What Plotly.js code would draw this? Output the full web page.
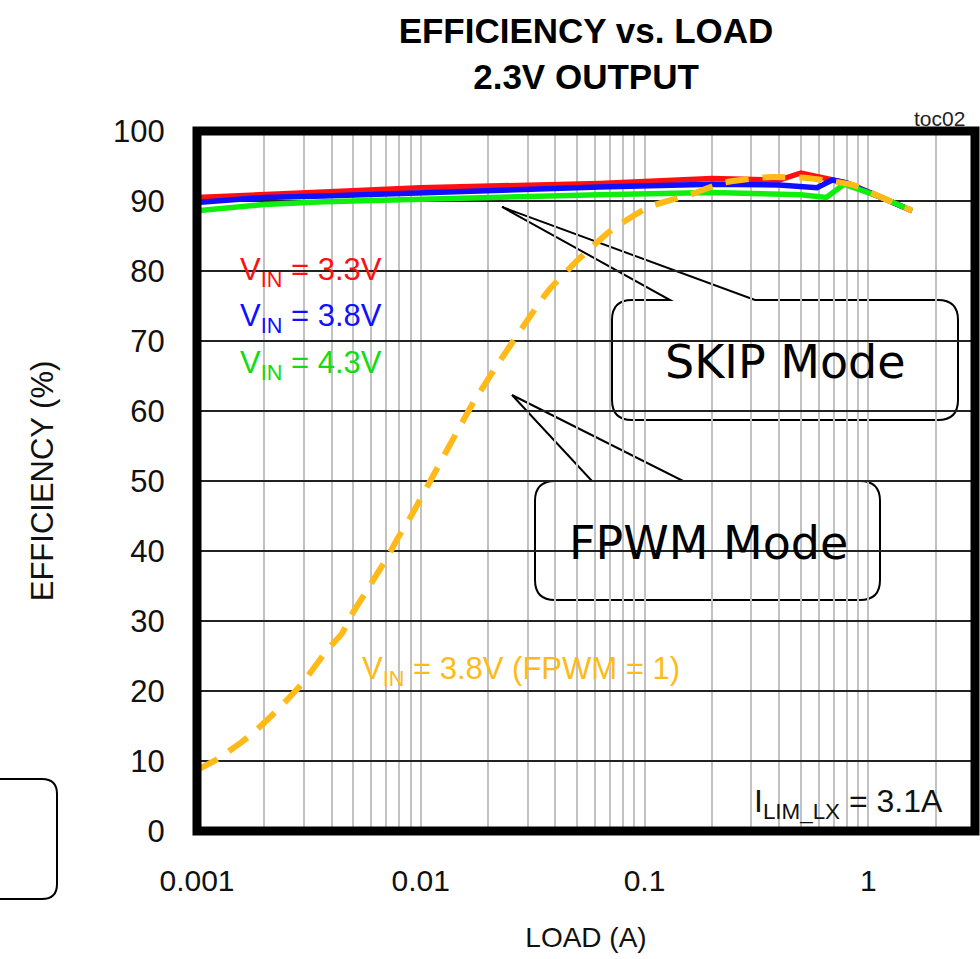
<!DOCTYPE html>
<html>
<head>
<meta charset="utf-8">
<script src="https://cdn.plot.ly/plotly-3.0.1.min.js"></script>
<style>html,body{margin:0;padding:0;background:#fff;}#chart{width:980px;height:959px;}</style>
</head>
<body>
<div id="chart"></div>
<script>
// ---- data ----
var loadRed   = [0.001, 0.002, 0.0037, 0.01, 0.02, 0.063, 0.2, 0.4, 0.5, 0.67, 0.8, 1.13, 1.57];
var effRed    = [90.5, 91.0, 91.3, 91.9, 92.1, 92.5, 93.2, 93.0, 94.0, 93.2, 92.6, 90.6, 88.6];
var loadBlue  = [0.001, 0.002, 0.0037, 0.01, 0.02, 0.063, 0.2, 0.4, 0.59, 0.69, 0.8, 1.13, 1.57];
var effBlue   = [89.8, 90.5, 90.7, 91.2, 91.6, 92.0, 92.4, 92.3, 91.9, 93.0, 92.6, 90.6, 88.6];
var loadGreen = [0.001, 0.002, 0.0037, 0.01, 0.02, 0.063, 0.2, 0.5, 0.65, 0.78, 1.13, 1.57];
var effGreen  = [88.6, 89.5, 89.9, 90.3, 90.6, 90.9, 91.2, 90.9, 90.5, 92.4, 90.6, 88.6];
var loadFpwm  = [0.001, 0.00124, 0.00152, 0.00178, 0.00216, 0.00247, 0.00294, 0.00385, 0.00444, 0.00498,
                 0.00563, 0.00637, 0.00706, 0.00791, 0.00895, 0.0112, 0.01378, 0.0171, 0.0221, 0.0283,
                 0.037, 0.0504, 0.0714, 0.1057, 0.163, 0.224, 0.352, 0.532, 0.627, 0.853, 1.13, 1.57];
var effFpwm   = [8.7, 10.3, 12.3, 14, 16.5, 18.4, 21, 26, 28.2, 31.2,
                 33.9, 36.7, 39, 41.9, 44.7, 50.4, 55.7, 61.1, 66.7, 71.8,
                 77.1, 81.6, 85.9, 89.2, 91, 92.6, 93.4, 93.3, 93, 92.3, 90.6, 88.6];

var xTickVals = [0.001, 0.01, 0.1, 1];
var xTickText = ['0.001', '0.01', '0.1', '1'];
var yTickVals = [0, 10, 20, 30, 40, 50, 60, 70, 80, 90, 100];

var seriesNames = ['V<sub>IN</sub> = 3.3V', 'V<sub>IN</sub> = 3.8V', 'V<sub>IN</sub> = 4.3V', 'V<sub>IN</sub> = 3.8V (FPWM = 1)'];

// ---- layout helpers (pixel -> paper) ----
var W = 980, H = 959;
var M = {l: 197, r: 5, t: 131, b: 128};
var PW = W - M.l - M.r, PH = H - M.t - M.b;
function px(x) { return (x - M.l) / PW; }
function py(y) { return (H - M.b - y) / PH; }
function P(x, y) { return px(x).toFixed(5) + ',' + py(y).toFixed(5); }

function callout(L, R, T, B, r, b1, b2, ax, ay) {
  return 'M' + P(L + r, T) + ' L' + P(b1, T) + ' L' + P(ax, ay) + ' L' + P(b2, T) +
    ' L' + P(R - r, T) + ' Q' + P(R, T) + ' ' + P(R, T + r) +
    ' L' + P(R, B - r) + ' Q' + P(R, B) + ' ' + P(R - r, B) +
    ' L' + P(L + r, B) + ' Q' + P(L, B) + ' ' + P(L, B - r) +
    ' L' + P(L, T + r) + ' Q' + P(L, T) + ' ' + P(L + r, T) + ' Z';
}

var minorVals = [];
[0.001, 0.01, 0.1, 1].forEach(function (d) {
  for (var k = 2; k <= 9; k++) { if (d * k <= 3) minorVals.push(d * k); }
});

var FONT = 'Liberation Sans, Arial, sans-serif';
var BOXFONT = 'DejaVu Sans, Verdana, sans-serif';

var traces = [
  {x: loadRed, y: effRed, mode: 'lines', name: seriesNames[0], line: {color: '#FF1010', width: 5.5}},
  {x: loadBlue, y: effBlue, mode: 'lines', name: seriesNames[1], line: {color: '#1010FF', width: 5.5}},
  {x: loadGreen, y: effGreen, mode: 'lines', name: seriesNames[2], line: {color: '#10EE10', width: 5.5}},
  {x: loadFpwm, y: effFpwm, mode: 'lines', name: seriesNames[3],
   line: {color: '#FFBA1A', width: 6, dash: '23px,14px', shape: 'spline', smoothing: 0.5}}
];

var layout = {
  width: W, height: H,
  margin: M,
  paper_bgcolor: '#fff', plot_bgcolor: '#fff',
  showlegend: false,
  font: {family: FONT, color: '#111'},
  title: {
    text: '<b>EFFICIENCY vs. LOAD</b><br><b>2.3V OUTPUT</b>',
    font: {family: FONT, size: 35, color: '#000'},
    x: 0.5, xref: 'paper', xanchor: 'center',
    y: 1 - 43 / H, yanchor: 'middle'
  },
  xaxis: {
    type: 'log', range: [-3, Math.log10(3)],
    tickvals: xTickVals, ticktext: xTickText,
    tickfont: {family: FONT, size: 30, color: '#111'},
    ticks: 'outside', ticklen: 23, tickcolor: 'rgba(0,0,0,0)',
    showgrid: true, gridcolor: '#C2C2C2', gridwidth: 2,
    minor: {tickvals: minorVals, showgrid: true, gridcolor: '#C2C2C2', gridwidth: 2, ticks: ''},
    zeroline: false, showline: false,
    title: {text: 'LOAD (A)', font: {family: FONT, size: 28, color: '#111'}, standoff: 31}
  },
  yaxis: {
    range: [0, 100], tickvals: yTickVals,
    tickfont: {family: FONT, size: 31, color: '#111'},
    ticks: 'outside', ticklen: 25, tickcolor: 'rgba(0,0,0,0)',
    showgrid: true, gridcolor: '#222', gridwidth: 2,
    zeroline: false, showline: false,
    title: {text: 'EFFICIENCY (%)', font: {family: FONT, size: 31, color: '#111'}, standoff: 50}
  },
  shapes: [
    // white label backgrounds (above grid, below traces)
    {type: 'rect', xref: 'paper', yref: 'paper', layer: 'between', x0: px(237), x1: px(390), y0: py(250), y1: py(382), fillcolor: '#fff', line: {width: 0}},
    {type: 'rect', xref: 'paper', yref: 'paper', layer: 'between', x0: px(355), x1: px(693), y0: py(652), y1: py(689), fillcolor: '#fff', line: {width: 0}},
    {type: 'rect', xref: 'paper', yref: 'paper', layer: 'between', x0: px(750), x1: px(958), y0: py(770), y1: py(826), fillcolor: '#fff', line: {width: 0}},
    // callouts
    {type: 'path', xref: 'paper', yref: 'paper', layer: 'between', path: callout(612, 958, 300, 420, 20, 670, 755, 502, 207), fillcolor: '#fff', line: {color: '#000', width: 2}},
    {type: 'path', xref: 'paper', yref: 'paper', layer: 'between', path: callout(535, 880, 481, 600, 20, 592, 683, 512, 395), fillcolor: '#fff', line: {color: '#000', width: 2}},
    // partial box bottom-left
    {type: 'path', xref: 'paper', yref: 'paper', layer: 'above',
     path: 'M' + P(-20, 779) + ' L' + P(42, 779) + ' Q' + P(57, 779) + ' ' + P(57, 794) + ' L' + P(57, 884) + ' Q' + P(57, 899) + ' ' + P(42, 899) + ' L' + P(-20, 899),
     line: {color: '#000', width: 2}},
    // thick plot frame
    {type: 'rect', xref: 'paper', yref: 'paper', layer: 'above', x0: 0, x1: 1, y0: 0, y1: 1, line: {color: '#000', width: 9}}
  ],
  annotations: [
    {xref: 'paper', yref: 'paper', x: px(238), y: py(272), xanchor: 'left', yanchor: 'middle', showarrow: false, text: seriesNames[0], font: {family: FONT, size: 31, color: '#FF1010'}},
    {xref: 'paper', yref: 'paper', x: px(238), y: py(318), xanchor: 'left', yanchor: 'middle', showarrow: false, text: seriesNames[1], font: {family: FONT, size: 31, color: '#1010FF'}},
    {xref: 'paper', yref: 'paper', x: px(238), y: py(365), xanchor: 'left', yanchor: 'middle', showarrow: false, text: seriesNames[2], font: {family: FONT, size: 31, color: '#10DD10'}},
    {xref: 'paper', yref: 'paper', x: px(360), y: py(671), xanchor: 'left', yanchor: 'middle', showarrow: false, text: seriesNames[3], font: {family: FONT, size: 31, color: '#FFBA1A'}},
    {xref: 'paper', yref: 'paper', x: px(752), y: py(803), xanchor: 'left', yanchor: 'middle', showarrow: false, text: 'I<sub>LIM_LX</sub> = 3.1A', font: {family: FONT, size: 32, color: '#111'}},
    {xref: 'paper', yref: 'paper', x: px(967), y: py(118), xanchor: 'right', yanchor: 'middle', showarrow: false, text: 'toc02', font: {family: FONT, size: 21, color: '#222'}},
    {xref: 'paper', yref: 'paper', x: px(785), y: py(362), xanchor: 'center', yanchor: 'middle', showarrow: false, text: 'SKIP Mode', font: {family: BOXFONT, size: 46, color: '#000'}},
    {xref: 'paper', yref: 'paper', x: px(708), y: py(543), xanchor: 'center', yanchor: 'middle', showarrow: false, text: 'FPWM Mode', font: {family: BOXFONT, size: 46, color: '#000'}}
  ]
};

Plotly.newPlot('chart', traces, layout, {displayModeBar: false, staticPlot: true});
</script>
</body>
</html>
